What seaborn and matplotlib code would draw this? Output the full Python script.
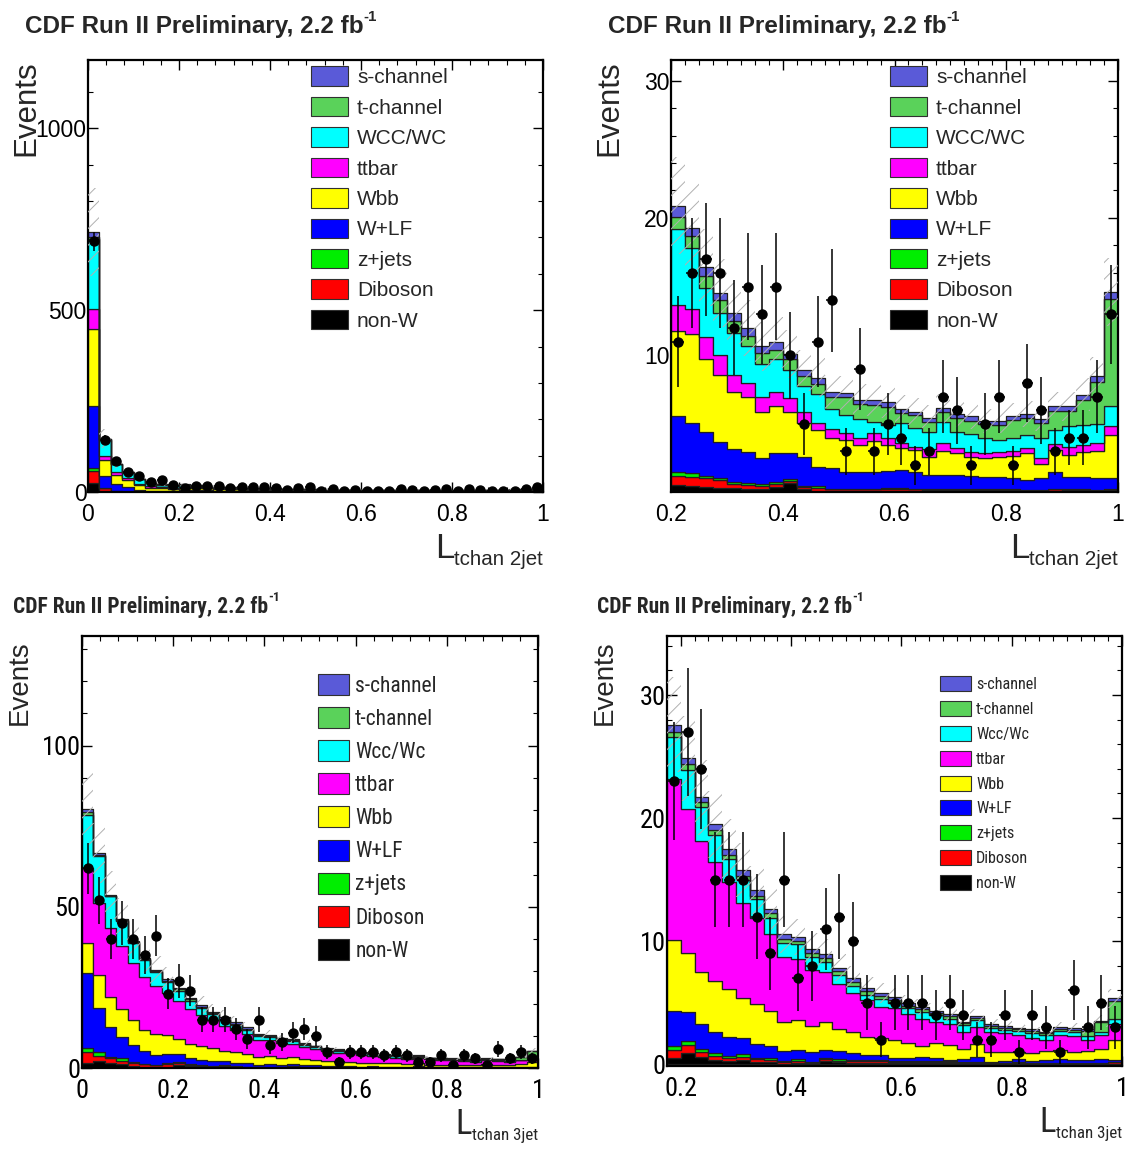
import numpy as np
import pandas as pd
import matplotlib
matplotlib.use("Agg")
import matplotlib.pyplot as plt
from matplotlib import font_manager
from matplotlib.patches import Patch
from matplotlib.ticker import MultipleLocator
import seaborn as sns

# -----------------------------
# Data (events per bin)
# -----------------------------
# 2-jet, L_tchan 0.2 .. 1.0 (32 bins of 0.025)
j2_nonw = [0.56, 0.5, 0.44, 0.37, 0.31, 0.24, 0.24, 0.44, 0.68, 0.24, 0.15, 0.1, 0.1, 0.1, 0.1, 0.1,
           0.1, 0.1, 0.1, 0.1, 0.1, 0.1, 0.1, 0.1, 0.1, 0.1, 0.05, 0.1, 0.1, 0.1, 0.1, 0.1]
j2_dib = [0.68, 0.65, 0.61, 0.53, 0.32, 0.32, 0.25, 0.19, 0.2, 0.18, 0.22, 0.15, 0.15, 0.15, 0.15, 0.2,
          0.2, 0.15, 0.1, 0.1, 0.1, 0.1, 0.1, 0.1, 0.1, 0.08, 0.1, 0.15, 0.1, 0.1, 0.05, 0.1]
j2_zjets = [0.24, 0.25, 0.19, 0.15, 0.17, 0.17, 0.11, 0.17, 0.12, 0.09, 0.09, 0.05, 0.05, 0.05, 0.05, 0.05,
            0.05, 0.05, 0.05, 0.05, 0.05, 0.05, 0.05, 0.05, 0.05, 0.05, 0.05, 0.05, 0.05, 0.05, 0.05, 0.05]
j2_wlf = [4.07, 3.7, 3.21, 2.62, 2.39, 2.21, 1.95, 2.12, 1.87, 2.07, 1.44, 1.47, 1.18, 1.23, 1.23, 1.23,
          1.31, 1.18, 1.04, 1.04, 1.04, 0.97, 0.92, 0.92, 0.85, 0.7, 0.84, 1.23, 0.92, 0.92, 0.84, 0.79]
j2_wbb = [6.25, 6.45, 5.25, 4.93, 4.11, 3.99, 3.35, 3.36, 3.03, 2.48, 2.68, 2.19, 2.37, 1.95, 2.24, 1.9,
          1.57, 1.64, 1.34, 1.75, 1.58, 1.41, 1.38, 1.46, 1.6, 1.94, 1.03, 1.59, 1.58, 1.82, 2.0, 3.17]
j2_ttbar = [1.9, 1.85, 1.6, 1.4, 1.3, 1.05, 1.1, 1.02, 1.0, 0.8, 0.48, 0.66, 0.48, 0.48, 0.56, 0.53,
            0.37, 0.24, 0.53, 0.56, 0.36, 0.36, 0.32, 0.31, 0.34, 0.36, 0.43, 0.43, 0.61, 0.49, 0.56, 0.66]
j2_wcc = [5.5, 4.4, 3.6, 3.1, 3.0, 2.67, 2.4, 2.4, 2.0, 1.94, 2.12, 1.48, 1.34, 1.42, 0.8, 0.93,
          1.46, 1.34, 1.29, 1.58, 1.22, 1.27, 1.14, 0.91, 0.92, 0.98, 1.5, 1.03, 1.46, 1.46, 1.39, 1.46]
j2_tchan = [0.9, 0.9, 0.9, 0.9, 0.9, 0.75, 0.8, 0.7, 0.8, 0.7, 0.72, 0.83, 1.26, 1.09, 1.27, 1.29,
            0.73, 0.97, 0.73, 0.68, 0.97, 0.97, 0.98, 1.11, 1.35, 1.21, 1.1, 1.38, 1.14, 1.78, 3.04, 7.77]
j2_schan = [0.8, 0.6, 0.6, 0.55, 0.55, 0.6, 0.45, 0.55, 0.4, 0.4, 0.45, 0.37, 0.32, 0.3, 0.32, 0.34,
            0.29, 0.23, 0.29, 0.29, 0.3, 0.32, 0.24, 0.27, 0.29, 0.3, 0.3, 0.32, 0.32, 0.41, 0.44, 0.52]
j2_data = [11, 16, 17, 16, 12, 15, 13, 15, 10, 5, 11, 14, 3, 9, 3, 5,
           4, 2, 3, 7, 6, 2, 5, 7, 2, 8, 6, 3, 4, 4, 7, 13]

# 2-jet, L_tchan 0 .. 0.2 (first 8 bins of the full-range plot)
j2_low_nonw = [26, 2, 1, 0, 0, 0, 0.4, 0.5]
j2_low_dib = [32, 8, 1, 0.5, 0.3, 0, 0.4, 0.4]
j2_low_zjets = [9, 1, 0, 0, 0, 0, 0.2, 0.2]
j2_low_wlf = [170, 33, 20, 13.5, 5.7, 3, 3, 2.5]
j2_low_wbb = [210, 44, 26, 20, 12, 9, 7, 6]
j2_low_ttbar = [57, 11, 7, 5, 5, 5, 2.5, 2]
j2_low_wcc = [192, 45, 21, 14, 12, 7, 6, 5]
j2_low_tchan = [6, 1, 1, 1, 1, 1, 1, 1]
j2_low_schan = [13, 2, 1, 1, 1, 1, 1, 0.8]
j2_low_data = [690, 144, 86, 54, 44, 28, 32, 18]

# 3-jet, L_tchan 0.175 .. 1.0 (33 bins of 0.025)
j3_nonw = [0.46, 0.92, 0.6, 0.33, 0.24, 0.33, 0.19, 0.14, 0.05, 0.1, 0.05, 0.27, 0.14, 0.12, 0.1, 0.1, 0.08,
           0.08, 0.08, 0.08, 0.08, 0.05, 0.08, 0.05, 0.05, 0.1, 0.05, 0.05, 0.05, 0.05, 0.05, 0.05, 0.05]
j3_dib = [0.68, 0.62, 0.4, 0.32, 0.27, 0.27, 0.22, 0.19, 0.1, 0.14, 0.05, 0.11, 0.13, 0.12, 0.12, 0.12, 0.1,
          0.08, 0.1, 0.08, 0.08, 0.06, 0.07, 0.05, 0.05, 0.04, 0.05, 0.05, 0.05, 0.05, 0.05, 0.05, 0.1]
j3_zjets = [0.32, 0.36, 0.22, 0.22, 0.17, 0.19, 0.1, 0.13, 0.09, 0.14, 0.09, 0.13, 0.11, 0.09, 0.08, 0.08, 0.07,
            0.06, 0.07, 0.06, 0.06, 0.04, 0.05, 0.03, 0.03, 0.03, 0.03, 0.03, 0.03, 0.03, 0.03, 0.03, 0.03]
j3_wlf = [2.84, 2.3, 2.03, 1.71, 1.54, 1.3, 1.09, 1.0, 0.82, 0.76, 0.76, 0.68, 0.68, 0.59, 0.43, 0.43, 0.29,
          0.24, 0.35, 0.24, 0.11, 0.25, 0.4, 0.07, 0.12, 0.21, 0.1, 0.2, 0.3, 0.2, 0.2, 0.25, 0.15]
j3_wbb = [5.8, 4.85, 4.2, 4.19, 3.85, 3.31, 3.28, 2.87, 2.33, 2.44, 2.17, 2.2, 1.76, 1.66, 1.49, 1.41, 1.41,
          1.22, 0.86, 1.22, 1.21, 0.8, 1.0, 0.8, 0.75, 0.62, 0.69, 0.75, 0.76, 0.67, 0.75, 0.89, 1.62]
j3_ttbar = [13.1, 11.65, 10.7, 9.63, 8.73, 7.7, 6.97, 6.27, 5.33, 4.96, 4.52, 4.06, 3.66, 3.22, 2.98, 2.52, 2.65,
            2.39, 2.17, 1.76, 1.69, 1.45, 1.45, 1.65, 1.5, 1.36, 1.17, 0.92, 1.17, 1.28, 0.87, 1.09, 1.3]
j3_wcc = [3.4, 3.2, 2.75, 2.2, 1.85, 1.85, 1.55, 1.3, 1.14, 1.19, 1.08, 0.87, 0.76, 0.57, 0.46, 0.6, 0.38,
          0.46, 0.62, 0.54, 0.48, 0.5, 0.5, 0.3, 0.3, 0.35, 0.42, 0.4, 0.35, 0.35, 0.3, 0.27, 0.46]
j3_tchan = [0.4, 0.5, 0.4, 0.4, 0.35, 0.35, 0.3, 0.35, 0.34, 0.27, 0.28, 0.32, 0.32, 0.32, 0.27, 0.27, 0.22,
            0.21, 0.22, 0.14, 0.19, 0.18, 0.2, 0.17, 0.17, 0.14, 0.18, 0.13, 0.15, 0.15, 0.45, 0.77, 1.41]
j3_schan = [0.6, 0.45, 0.4, 0.5, 0.45, 0.5, 0.45, 0.4, 0.35, 0.35, 0.32, 0.3, 0.27, 0.28, 0.27, 0.27, 0.22,
            0.19, 0.19, 0.21, 0.17, 0.11, 0.15, 0.13, 0.12, 0.1, 0.13, 0.1, 0.12, 0.12, 0.12, 0.12, 0.22]
j3_data = [23, 27, 24, 15, 15, 15, 12, 9, 15, 7, 8, 11, 12, 10, 5, 2, 5,
           5, 5, 4, 5, 4, 2, 2, 4, 1, 4, 3, 1, 6, 3, 5, 3]

# 3-jet, L_tchan 0 .. 0.175 (first 7 bins of the full-range plot)
j3_low_nonw = [1.6, 2.3, 1.7, 1.3, 0.6, 0.4, 0.3]
j3_low_dib = [3.3, 1.5, 1.3, 1.0, 1.06, 0.7, 0.5]
j3_low_zjets = [1.2, 1.1, 0.5, 0.7, 0.34, 0.2, 0.2]
j3_low_wlf = [23.5, 13.8, 9.3, 6.5, 5.1, 4.0, 3.0]
j3_low_wbb = [9.3, 10.2, 9.1, 8.7, 7.8, 6.5, 6.6]
j3_low_ttbar = [23.1, 22.4, 21.5, 19.5, 17.6, 16.4, 14.7]
j3_low_wcc = [16.5, 14.4, 9.8, 8.0, 6.4, 5.4, 4.6]
j3_low_tchan = [1.0, 0.5, 0.3, 0.3, 0.3, 0.3, 0.3]
j3_low_schan = [0.8, 0.5, 0.2, 0.2, 0.2, 0.2, 0.2]
j3_low_data = [62, 52, 40, 45, 40, 35, 41]

# relative size of the hatched MC uncertainty band
syst_2jet = 0.17
syst_3jet = 0.14

# -----------------------------
# Style
# -----------------------------
PROCESSES = ["schan", "tchan", "wcc", "ttbar", "wbb", "wlf", "zjets", "dib", "nonw"]  # top -> bottom
COLORS = {
    "schan": "#5a5ad8", "tchan": "#5ad25a", "wcc": "#00ffff", "ttbar": "#ff00ff", "wbb": "#ffff00",
    "wlf": "#0000ff", "zjets": "#00ee00", "dib": "#ff0000", "nonw": "#000000",
}
LABELS_2J = ["s-channel", "t-channel", "WCC/WC", "ttbar", "Wbb", "W+LF", "z+jets", "Diboson", "non-W"]
LABELS_3J = ["s-channel", "t-channel", "Wcc/Wc", "ttbar", "Wbb", "W+LF", "z+jets", "Diboson", "non-W"]


def find_narrow_font():
    # the lower plots use a condensed Helvetica; pick whatever narrow face is installed
    entries = font_manager.fontManager.ttflist
    for wanted in ["Liberation Sans Narrow", "Roboto Condensed", "Open Sans Condensed"]:
        if any(f.name == wanted for f in entries):
            return {"family": wanted, "stretch": "condensed"}, 1.0
    for f in entries:
        st = str(f.stretch)
        if f.name in ("DejaVu Sans", "Noto Sans", "Liberation Sans", "Roboto", "Open Sans") and \
                st in ("condensed", "semi-condensed", "extra-condensed", "75", "87", "62"):
            return {"family": f.name, "stretch": f.stretch}, 0.95
    return {"family": "Liberation Sans", "stretch": "normal"}, 0.84


WIDE = {"family": "Liberation Sans", "stretch": "normal"}
NARROW, NARROW_SCALE = find_narrow_font()

sns.set_theme(style="ticks")
plt.rcParams.update({
    "font.family": ["Liberation Sans", "DejaVu Sans"],
    "xtick.direction": "in", "ytick.direction": "in",
    "xtick.top": True, "ytick.right": True,
    "xtick.major.size": 7, "ytick.major.size": 7,
    "xtick.minor.size": 3.5, "ytick.minor.size": 3.5,
    "xtick.major.width": 1.0, "ytick.major.width": 1.0,
    "xtick.minor.width": 0.8, "ytick.minor.width": 0.8,
    "xtick.color": "black", "ytick.color": "black",
    "axes.linewidth": 1.6, "axes.edgecolor": "black",
    "hatch.linewidth": 0.7, "hatch.color": "#b0b0b0",
})


def collect(prefix_low, prefix_fine, scope):
    if prefix_low is None:
        return {p: np.array(scope[f"{prefix_fine}_{p}"], float) for p in PROCESSES}
    return {p: np.array(scope[f"{prefix_low}_{p}"] + scope[f"{prefix_fine}_{p}"], float) for p in PROCESSES}


def draw_panel(ax, x0, mc, data, syst, labels, font, scale, tick_size, yinfo, leg):
    width = 0.025
    nbins = len(data)
    edges = x0 + width * np.arange(nbins + 1)
    centers = edges[:-1] + width / 2

    df = pd.concat([pd.DataFrame({"x": centers, "n": mc[p], "process": p}) for p in PROCESSES],
                   ignore_index=True)
    sns.histplot(data=df, x="x", weights="n", hue="process", hue_order=PROCESSES, multiple="stack",
                 bins=list(edges), element="step", fill=True, palette=COLORS, alpha=1,
                 edgecolor="#202020", linewidth=0.9, legend=False, ax=ax)

    total = sum(mc[p] for p in PROCESSES)
    ax.fill_between(edges, np.append(total * (1 - syst), total[-1] * (1 - syst)),
                    np.append(total * (1 + syst), total[-1] * (1 + syst)), step="post",
                    facecolor="none", edgecolor="#b0b0b0", hatch="//", linewidth=0, zorder=3)

    data = np.array(data, float)
    ax.errorbar(centers, data, yerr=np.sqrt(data), xerr=width * 0.4, fmt="o", color="black",
                markersize=6.5, elinewidth=1.1, capsize=0, zorder=5)

    ax.set_xlim(x0, 1.0)
    ax.set_ylim(yinfo["lim"])
    tkw = dict(fontsize=tick_size * scale, fontfamily=font["family"], fontstretch=font["stretch"])
    xt = [0.2, 0.4, 0.6, 0.8, 1.0] if x0 > 0.1 else [0, 0.2, 0.4, 0.6, 0.8, 1.0]
    ax.set_xticks(xt, labels=[f"{v:g}" for v in xt], **tkw)
    ax.set_yticks(yinfo["ticks"], labels=[f"{v:g}" for v in yinfo["ticks"]], **tkw)
    ax.xaxis.set_minor_locator(MultipleLocator(0.04 if x0 == 0 else 0.025))
    ax.yaxis.set_minor_locator(MultipleLocator(yinfo["minor"]))
    ax.tick_params(axis="x", which="major", pad=8)
    ax.tick_params(axis="y", which="major", pad=1)
    ax.set_xlabel("")
    ax.set_ylabel("")
    for s in ax.spines.values():
        s.set_visible(True)

    handles = [Patch(facecolor=COLORS[p], edgecolor="#303030", linewidth=0.8, label=l)
               for p, l in zip(PROCESSES, labels)]
    size = leg["size"] * scale
    ax.legend(handles=handles, loc="upper left", bbox_to_anchor=leg["anchor"], frameon=False,
              prop={"family": font["family"], "stretch": font["stretch"], "size": size},
              handlelength=leg["hl"] * leg["size"] / size, handleheight=leg["hh"] * leg["size"] / size,
              labelspacing=leg["sp"] * leg["size"] / size, handletextpad=leg["tp"] * leg["size"] / size,
              borderpad=0, borderaxespad=0)


fig = plt.figure(figsize=(11.27, 11.53), dpi=100)
W, H = 1127, 1153


def add_axes(x1, y1, x2, y2):
    return fig.add_axes([x1 / W, 1 - y2 / H, (x2 - x1) / W, (y2 - y1) / H])


scope = globals()
panels = [
    dict(box=(88, 60, 543, 492), x0=0.0, mc=collect("j2_low", "j2", scope), data=j2_low_data + j2_data,
         syst=syst_2jet, labels=LABELS_2J, font=WIDE, scale=1.0, tick=16.5,
         yinfo={"lim": (0, 1188), "ticks": [0, 500, 1000], "minor": 100},
         leg={"anchor": (0.49, 0.985), "size": 15, "hl": 1.78, "hh": 1.06, "sp": 0.46, "tp": 0.43},
         title=(25, 33, 17.5), events=(26, 60, 22.5),
         xlab=("tchan 2jet", 25, 14.8, -0.135)),
    dict(box=(671, 60, 1118, 492), x0=0.2, mc=collect(None, "j2", scope), data=j2_data,
         syst=syst_2jet, labels=LABELS_2J, font=WIDE, scale=1.0, tick=16.5,
         yinfo={"lim": (0.05, 31.5), "ticks": [10, 20, 30], "minor": 2},
         leg={"anchor": (0.49, 0.985), "size": 15, "hl": 1.78, "hh": 1.06, "sp": 0.46, "tp": 0.43},
         title=(608, 33, 17.5), events=(609, 60, 22.5),
         xlab=("tchan 2jet", 25, 14.8, -0.135)),
    dict(box=(82, 636, 538, 1068), x0=0.0, mc=collect("j3_low", "j3", scope), data=j3_low_data + j3_data,
         syst=syst_3jet, labels=LABELS_3J, font=NARROW, scale=NARROW_SCALE, tick=19,
         yinfo={"lim": (0, 134), "ticks": [0, 50, 100], "minor": 10},
         leg={"anchor": (0.5175, 0.912), "size": 15.5, "hl": 1.45, "hh": 1.12, "sp": 0.48, "tp": 0.28},
         title=(13, 613, 15.5), events=(20, 640, 20),
         xlab=("tchan 3jet", 25, 12.2, -0.14)),
    dict(box=(667, 636, 1122, 1066), x0=0.175, mc=collect(None, "j3", scope), data=j3_data,
         syst=syst_3jet, labels=LABELS_3J, font=NARROW, scale=NARROW_SCALE, tick=19,
         yinfo={"lim": (-0.15, 34.8), "ticks": [0, 10, 20, 30], "minor": 2},
         leg={"anchor": (0.6, 0.907), "size": 11.6, "hl": 1.93, "hh": 1.06, "sp": 0.55, "tp": 0.31},
         title=(597, 613, 15.5), events=(605, 640, 20),
         xlab=("tchan 3jet", 25, 12.2, -0.14)),
]

for p in panels:
    ax = add_axes(*p["box"])
    draw_panel(ax, p["x0"], p["mc"], p["data"], p["syst"], p["labels"], p["font"], p["scale"],
               p["tick"], p["yinfo"], p["leg"])
    font, scale = p["font"], p["scale"]
    fkw = dict(fontfamily=font["family"], fontstretch=font["stretch"])

    # title with a small raised "-1"
    tx, ty, tsize = p["title"]
    title = fig.text(tx / W, 1 - ty / H, "CDF Run II Preliminary, 2.2 fb", fontsize=tsize * scale,
                     fontweight="bold", ha="left", va="baseline", **fkw)
    ax.annotate("-1", xy=(1.0, 0.62), xycoords=title, ha="left", va="bottom",
                fontsize=tsize * scale * 0.62, fontweight="bold", annotation_clip=False, **fkw)

    ex, ey, esize = p["events"]
    fig.text(ex / W, 1 - ey / H, "Events", rotation=90, fontsize=esize,
             fontfamily=WIDE["family"], ha="center", va="top")

    # x label: big L with a smaller subscript
    sub_text, lsize, ssize, ly = p["xlab"]
    sub = ax.text(1.0, ly, sub_text, transform=ax.transAxes, fontsize=ssize * scale,
                  ha="right", va="top", **fkw)
    ax.annotate("L", xy=(0.0, 0.62), xycoords=sub, ha="right", va="baseline",
                fontsize=lsize * scale, annotation_clip=False, **fkw)

fig.savefig("out.png", dpi=100)
